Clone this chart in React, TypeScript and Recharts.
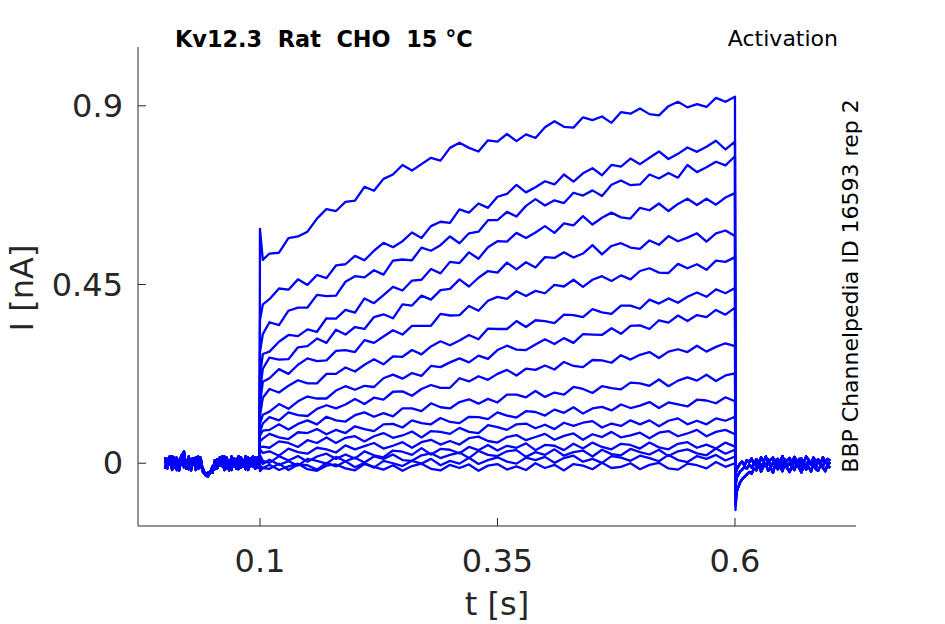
import { LineChart, Line, XAxis, YAxis } from "recharts";

// time grid (s): holding baseline, voltage step, tail after the step
const preTimes = [
  0, 0.0025, 0.005, 0.0075, 0.01, 0.0125, 0.015, 0.0175, 0.02, 0.0225, 0.025, 0.0275, 0.03, 0.0325, 0.035, 0.0375,
  0.04, 0.0425, 0.045, 0.0475, 0.05, 0.0525, 0.055, 0.0575, 0.06, 0.0625, 0.065, 0.0675, 0.07, 0.0725, 0.075, 0.0775,
  0.08, 0.0825, 0.085, 0.0875, 0.09, 0.0925, 0.095, 0.0975, 0.0995,
];
const stepTimes = [
  0.1, 0.103, 0.11, 0.12, 0.13, 0.14, 0.15, 0.16, 0.17, 0.18, 0.19, 0.2, 0.21, 0.22, 0.23, 0.24, 0.25, 0.26,
  0.27, 0.28, 0.29, 0.3, 0.31, 0.32, 0.33, 0.34, 0.35, 0.36, 0.37, 0.38, 0.39, 0.4, 0.41, 0.42, 0.43, 0.44,
  0.45, 0.46, 0.47, 0.48, 0.49, 0.5, 0.51, 0.52, 0.53, 0.54, 0.55, 0.56, 0.57, 0.58, 0.59, 0.6,
];
const tailTimes = [
  0.6005, 0.602, 0.605, 0.6075, 0.61, 0.6125, 0.615, 0.6175, 0.62, 0.6225, 0.625, 0.6275, 0.63, 0.6325, 0.635,
  0.6375, 0.64, 0.6425, 0.645, 0.6475, 0.65, 0.6525, 0.655, 0.6575, 0.66, 0.6625, 0.665, 0.6675, 0.67, 0.6725,
  0.675, 0.6775, 0.68, 0.6825, 0.685, 0.6875, 0.69, 0.6925, 0.695, 0.6975, 0.7,
];

// baseline current before the step (nA)
const baseA = [0.008, -0.013, 0.017, -0.006, 0.014, -0.017, 0.004, 0.02, -0.01, 0.007, -0.015, 0.011, -0.004, 0.015, -0.014, 0.006, -0.02, -0.026, -0.032, -0.024, -0.017, 0.003, -0.011, 0.014, -0.007, 0.017, -0.013, 0.008, -0.017, 0.013, -0.003, 0.018, -0.011, 0.006, -0.015, 0.014, -0.008, 0.017, -0.013, 0.007, 0.001];
const baseB = [-0.014, 0.011, -0.004, 0.018, -0.011, 0.008, -0.018, 0.013, 0.003, -0.014, 0.017, -0.008, 0.01, -0.017, 0.006, 0.014, -0.022, -0.03, -0.024, -0.026, -0.008, -0.015, 0.01, -0.006, 0.015, -0.017, 0.004, -0.01, 0.017, -0.007, 0.011, -0.015, 0.008, -0.004, 0.018, -0.013, 0.006, -0.008, 0.014, -0.011, -0.003];
const baseC = [0.015, -0.006, 0.01, -0.017, 0.003, 0.014, -0.01, 0.018, 0.03, -0.013, 0.006, -0.018, 0.013, -0.003, 0.017, -0.011, -0.014, -0.028, -0.034, -0.02, -0.024, 0.008, -0.013, 0.004, 0.017, -0.01, 0.014, -0.018, 0.003, 0.011, -0.014, 0.007, 0.015, -0.008, 0.01, -0.017, 0.013, 0, -0.014, 0.015, 0.004];

// current during the step, one array per sweep (nA)
const trace01 = [0.59, 0.512, 0.528, 0.53, 0.567, 0.571, 0.583, 0.616, 0.64, 0.635, 0.658, 0.661, 0.696, 0.686, 0.716, 0.727, 0.751, 0.737, 0.753, 0.769, 0.762, 0.794, 0.807, 0.794, 0.785, 0.813, 0.81, 0.829, 0.811, 0.828, 0.819, 0.846, 0.861, 0.847, 0.845, 0.871, 0.864, 0.873, 0.857, 0.884, 0.88, 0.893, 0.879, 0.876, 0.899, 0.91, 0.896, 0.904, 0.897, 0.92, 0.91, 0.923];
const trace02 = [0.36, 0.4, 0.413, 0.44, 0.437, 0.463, 0.449, 0.474, 0.466, 0.498, 0.501, 0.522, 0.511, 0.535, 0.555, 0.544, 0.559, 0.581, 0.567, 0.597, 0.608, 0.605, 0.639, 0.631, 0.654, 0.643, 0.671, 0.678, 0.701, 0.682, 0.695, 0.71, 0.702, 0.727, 0.709, 0.73, 0.743, 0.725, 0.751, 0.747, 0.767, 0.753, 0.769, 0.785, 0.766, 0.779, 0.795, 0.784, 0.797, 0.812, 0.79, 0.81];
const trace03 = [0.28, 0.325, 0.355, 0.348, 0.384, 0.392, 0.392, 0.424, 0.421, 0.422, 0.457, 0.471, 0.468, 0.486, 0.475, 0.51, 0.513, 0.511, 0.543, 0.535, 0.549, 0.571, 0.554, 0.579, 0.583, 0.612, 0.612, 0.633, 0.621, 0.648, 0.665, 0.649, 0.662, 0.655, 0.681, 0.674, 0.687, 0.673, 0.701, 0.712, 0.7, 0.702, 0.727, 0.717, 0.731, 0.719, 0.751, 0.733, 0.745, 0.759, 0.75, 0.773];
const trace04 = [0.22, 0.275, 0.281, 0.306, 0.323, 0.32, 0.337, 0.331, 0.365, 0.364, 0.386, 0.379, 0.415, 0.403, 0.423, 0.444, 0.435, 0.46, 0.462, 0.489, 0.478, 0.507, 0.504, 0.531, 0.515, 0.544, 0.559, 0.558, 0.58, 0.567, 0.581, 0.597, 0.58, 0.604, 0.599, 0.622, 0.601, 0.618, 0.631, 0.619, 0.616, 0.643, 0.637, 0.654, 0.635, 0.653, 0.666, 0.65, 0.666, 0.651, 0.669, 0.68];
const trace05 = [0.18, 0.238, 0.266, 0.261, 0.262, 0.292, 0.295, 0.314, 0.303, 0.336, 0.324, 0.343, 0.338, 0.368, 0.375, 0.365, 0.4, 0.397, 0.422, 0.412, 0.436, 0.439, 0.463, 0.445, 0.467, 0.484, 0.48, 0.505, 0.488, 0.506, 0.493, 0.519, 0.517, 0.531, 0.518, 0.528, 0.549, 0.526, 0.547, 0.554, 0.543, 0.54, 0.561, 0.55, 0.572, 0.559, 0.568, 0.579, 0.558, 0.579, 0.586, 0.572];
const trace06 = [0.15, 0.205, 0.214, 0.237, 0.225, 0.248, 0.264, 0.257, 0.259, 0.283, 0.285, 0.28, 0.31, 0.303, 0.319, 0.335, 0.324, 0.346, 0.346, 0.346, 0.376, 0.372, 0.373, 0.396, 0.384, 0.409, 0.419, 0.414, 0.433, 0.421, 0.434, 0.428, 0.449, 0.445, 0.462, 0.444, 0.462, 0.471, 0.459, 0.473, 0.463, 0.484, 0.491, 0.48, 0.479, 0.502, 0.491, 0.501, 0.487, 0.51, 0.507, 0.519];
const trace07 = [0.12, 0.165, 0.187, 0.178, 0.195, 0.209, 0.201, 0.201, 0.225, 0.225, 0.241, 0.231, 0.248, 0.262, 0.249, 0.269, 0.268, 0.285, 0.274, 0.294, 0.307, 0.297, 0.309, 0.323, 0.312, 0.339, 0.338, 0.338, 0.358, 0.343, 0.36, 0.358, 0.353, 0.374, 0.373, 0.368, 0.388, 0.38, 0.376, 0.397, 0.397, 0.389, 0.412, 0.402, 0.415, 0.404, 0.419, 0.43, 0.419, 0.438, 0.428, 0.441];
const trace08 = [0.1, 0.122, 0.13, 0.149, 0.137, 0.156, 0.168, 0.163, 0.163, 0.183, 0.194, 0.185, 0.195, 0.192, 0.214, 0.223, 0.213, 0.227, 0.22, 0.245, 0.242, 0.254, 0.264, 0.254, 0.271, 0.263, 0.285, 0.296, 0.286, 0.285, 0.299, 0.312, 0.3, 0.315, 0.303, 0.325, 0.324, 0.323, 0.34, 0.326, 0.346, 0.347, 0.338, 0.36, 0.354, 0.372, 0.358, 0.373, 0.368, 0.386, 0.374, 0.392];
const trace09 = [0.08, 0.1, 0.116, 0.108, 0.128, 0.121, 0.119, 0.137, 0.146, 0.138, 0.148, 0.162, 0.149, 0.165, 0.16, 0.18, 0.181, 0.17, 0.187, 0.197, 0.19, 0.19, 0.214, 0.206, 0.219, 0.21, 0.225, 0.235, 0.221, 0.238, 0.235, 0.246, 0.236, 0.255, 0.245, 0.242, 0.26, 0.259, 0.253, 0.272, 0.261, 0.273, 0.28, 0.265, 0.281, 0.287, 0.28, 0.296, 0.281, 0.293, 0.302, 0.295];
const trace10 = [0.07, 0.082, 0.084, 0.098, 0.085, 0.099, 0.108, 0.098, 0.117, 0.108, 0.105, 0.121, 0.128, 0.117, 0.126, 0.118, 0.138, 0.138, 0.131, 0.151, 0.141, 0.138, 0.154, 0.161, 0.15, 0.162, 0.153, 0.173, 0.173, 0.166, 0.182, 0.167, 0.178, 0.173, 0.192, 0.187, 0.177, 0.194, 0.189, 0.186, 0.203, 0.201, 0.195, 0.211, 0.194, 0.208, 0.216, 0.208, 0.223, 0.207, 0.221, 0.226];
const trace11 = [0.055, 0.062, 0.074, 0.065, 0.061, 0.078, 0.076, 0.086, 0.073, 0.084, 0.076, 0.093, 0.086, 0.081, 0.098, 0.099, 0.09, 0.108, 0.101, 0.098, 0.114, 0.104, 0.101, 0.117, 0.116, 0.111, 0.128, 0.12, 0.115, 0.131, 0.129, 0.12, 0.135, 0.127, 0.141, 0.125, 0.138, 0.142, 0.133, 0.148, 0.139, 0.145, 0.154, 0.139, 0.153, 0.148, 0.143, 0.16, 0.158, 0.151, 0.166, 0.156];
const trace12 = [0.04, 0.042, 0.039, 0.055, 0.051, 0.041, 0.058, 0.051, 0.065, 0.051, 0.064, 0.068, 0.055, 0.068, 0.076, 0.064, 0.07, 0.08, 0.065, 0.081, 0.079, 0.074, 0.089, 0.079, 0.076, 0.096, 0.091, 0.084, 0.098, 0.1, 0.088, 0.097, 0.086, 0.102, 0.094, 0.102, 0.106, 0.09, 0.1, 0.094, 0.108, 0.098, 0.108, 0.093, 0.107, 0.113, 0.098, 0.107, 0.098, 0.113, 0.107, 0.117];
const trace13 = [0.035, 0.026, 0.03, 0.019, 0.037, 0.028, 0.024, 0.039, 0.035, 0.027, 0.045, 0.035, 0.043, 0.051, 0.037, 0.044, 0.053, 0.039, 0.053, 0.059, 0.047, 0.056, 0.047, 0.063, 0.067, 0.056, 0.052, 0.066, 0.071, 0.058, 0.066, 0.074, 0.059, 0.069, 0.075, 0.059, 0.073, 0.066, 0.079, 0.065, 0.07, 0.077, 0.063, 0.077, 0.081, 0.068, 0.075, 0.084, 0.068, 0.079, 0.084, 0.073];
const trace14 = [0.02, 0.006, 0.001, 0.018, 0.007, 0.018, 0.004, 0.017, 0.024, 0.011, 0.022, 0.012, 0.03, 0.02, 0.015, 0.032, 0.029, 0.021, 0.038, 0.022, 0.036, 0.034, 0.025, 0.041, 0.033, 0.046, 0.032, 0.044, 0.039, 0.05, 0.033, 0.046, 0.044, 0.033, 0.049, 0.037, 0.052, 0.041, 0.035, 0.049, 0.046, 0.037, 0.052, 0.04, 0.035, 0.049, 0.053, 0.039, 0.047, 0.037, 0.052, 0.042];
const trace15 = [0.01, -0.002, 0.009, -0.004, 0.005, -0.006, 0.011, 0.006, -0.001, 0.016, 0.005, 0.014, 0.002, 0.017, 0.011, 0.022, 0.008, 0.006, 0.02, 0.025, 0.013, 0.021, 0.027, 0.013, 0.031, 0.021, 0.018, 0.03, 0.033, 0.016, 0.028, 0.021, 0.035, 0.019, 0.028, 0.032, 0.017, 0.034, 0.023, 0.02, 0.036, 0.028, 0.022, 0.034, 0.018, 0.03, 0.035, 0.025, 0.02, 0.037, 0.024, 0.034];
const trace16 = [-0.005, -0.012, -0.014, -0.001, -0.017, -0.003, -0.005, -0.016, 0.001, -0.008, 0.005, -0.01, 0.001, -0.011, 0.006, 0, -0.007, 0.006, -0.001, 0.011, -0.005, 0.006, -0.001, 0.014, -0.002, 0.008, 0.015, 0.004, -0.001, 0.014, 0.008, 0.016, 0.001, 0.013, 0.019, 0.004, 0.011, 0.001, 0.018, 0.014, 0.006, 0.019, 0.013, 0.005, 0.021, 0.008, 0.003, 0.018, 0.011, 0.021, 0.007, 0.017];
const trace17 = [-0.02, -0.012, -0.004, -0.017, -0.008, -0.001, -0.015, -0.019, -0.006, -0.003, -0.013, -0.018, -0.002, -0.009, -0.016, -0.005, -0.019, -0.007, -0.001, -0.014, -0.018, -0.004, -0.012, -0.003, -0.019, -0.006, -0.002, -0.016, -0.008, -0.017, 0, -0.012, -0.004, -0.018, -0.002, -0.006, -0.015, 0.001, -0.012, -0.009, 0, -0.015, -0.004, 0.001, -0.013, -0.016, -0.001, -0.005, -0.013, 0.003, -0.009, 0];

// first point after the step ends, per sweep
const tailDrop = [-0.118, -0.105, -0.095, -0.085, -0.075, -0.065, -0.055, -0.05, -0.045, -0.04, -0.035, -0.03, -0.025, -0.02, -0.018, -0.015, -0.012];
// tail currents (0.602 .. 0.7 s)
const tailA = [-0.07, -0.05, -0.04, -0.034, -0.028, -0.022, -0.026, -0.014, -0.018, -0.004, -0.021, -0.008, -0.002, -0.019, -0.01, -0.024, -0.003, -0.015, -0.007, -0.02, 0, -0.013, -0.022, -0.006, -0.017, -0.001, -0.012, -0.023, -0.005, -0.016, -0.009, -0.021, -0.002, -0.014, -0.019, -0.006, -0.011, -0.02, -0.004, -0.012];
const tailB = [-0.035, -0.022, -0.016, -0.01, -0.013, -0.004, -0.011, 0, -0.008, 0.006, -0.012, 0.003, -0.006, 0.009, -0.01, 0.001, 0.008, -0.013, 0.004, -0.005, 0.01, -0.009, 0.002, -0.012, 0.007, -0.003, 0.011, -0.008, 0, -0.011, 0.009, -0.004, 0.005, -0.013, 0.006, -0.001, -0.009, 0.008, -0.006, 0.003];
const tailC = [-0.015, -0.002, 0.004, -0.006, 0.008, 0.002, 0.012, -0.003, 0.01, -0.004, 0.015, 0.003, 0.017, -0.002, 0.009, 0.014, -0.005, 0.011, 0.004, 0.018, -0.001, 0.008, 0.013, 0, 0.016, 0.006, -0.003, 0.012, 0.002, 0.017, 0.007, -0.004, 0.014, 0.005, 0.01, -0.002, 0.015, 0.003, 0.011, 0.006];

const xTicks = [0.1, 0.35, 0.6];
const yTicks = [0, 0.45, 0.9];

const steps = [trace01, trace02, trace03, trace04, trace05, trace06, trace07, trace08, trace09, trace10, trace11, trace12, trace13, trace14, trace15, trace16, trace17];
const bases = [baseA, baseB, baseC];

const sweeps = steps.map((s, i) => {
  const tail = i < 5 ? tailA : i < 11 ? tailB : tailC;
  return [...bases[i % 3], ...s, tailDrop[i], ...tail];
});
const times = [...preTimes, ...stepTimes, ...tailTimes];
const rows = times.map((t, k) => {
  const row: Record<string, number> = { t };
  sweeps.forEach((sw, i) => {
    row["s" + i] = sw[k];
  });
  return row;
});

const FONT = "'DejaVu Sans', sans-serif";
const AXIS = "#262626";

function XTick(props: any) {
  const { x, y, payload } = props;
  return (
    <g>
      <line x1={x} x2={x} y1={y} y2={y - 8} stroke={AXIS} strokeWidth={1} />
      <text x={x} y={y + 46} textAnchor="middle" fontSize={32} fontFamily={FONT} fill={AXIS}>
        {String(payload.value)}
      </text>
    </g>
  );
}

function YTick(props: any) {
  const { x, y, payload } = props;
  return (
    <g>
      <line x1={x} x2={x + 8} y1={y} y2={y} stroke={AXIS} strokeWidth={1} />
      <text x={x - 15} y={y + 11} textAnchor="end" fontSize={32} fontFamily={FONT} fill={AXIS}>
        {String(payload.value)}
      </text>
    </g>
  );
}

export default function App() {
  return (
    <div style={{ position: "absolute", left: 0, top: 0, width: 945, height: 624, background: "#fff" }}>
      <LineChart width={945} height={624} data={rows} margin={{ top: 47, right: 89, bottom: 38, left: 0 }}>
        <XAxis
          dataKey="t"
          type="number"
          domain={[-0.0284, 0.7274]}
          ticks={xTicks}
          interval={0}
          allowDataOverflow
          height={60}
          tickSize={0}
          tickMargin={0}
          tick={(p: any) => <XTick {...p} />}
          axisLine={{ stroke: AXIS, strokeWidth: 1 }}
        />
        <YAxis
          type="number"
          domain={[-0.158, 1.048]}
          ticks={yTicks}
          interval={0}
          allowDataOverflow
          width={138}
          tickSize={0}
          tickMargin={0}
          tick={(p: any) => <YTick {...p} />}
          axisLine={{ stroke: AXIS, strokeWidth: 1 }}
        />
        {sweeps.map((_, i) => (
          <Line
            key={i}
            dataKey={"s" + i}
            type="linear"
            stroke="#0000ff"
            strokeWidth={2.3}
            strokeLinejoin="round"
            dot={false}
            activeDot={false}
            isAnimationActive={false}
          />
        ))}
      </LineChart>
      <svg width={945} height={624} style={{ position: "absolute", left: 0, top: 0, pointerEvents: "none" }}>
        <text x={175} y={47} fontSize={22.4} fontWeight="bold" fontFamily={FONT} fill="#000" style={{ whiteSpace: "pre" }}>
          Kv12.3  Rat  CHO  15 °C
        </text>
        <text x={838} y={46} textAnchor="end" fontSize={22} fontFamily={FONT} fill="#000">
          Activation
        </text>
        <text
          transform="translate(858,286) rotate(-90)"
          textAnchor="middle"
          fontSize={22}
          fontFamily={FONT}
          fill="#000"
        >
          BBP Channelpedia ID 16593 rep 2
        </text>
        <text x={497} y={615} textAnchor="middle" fontSize={32} fontFamily={FONT} fill={AXIS}>
          t [s]
        </text>
        <text transform="translate(33,288) rotate(-90)" textAnchor="middle" fontSize={32} fontFamily={FONT} fill={AXIS}>
          I [nA]
        </text>
      </svg>
    </div>
  );
}
